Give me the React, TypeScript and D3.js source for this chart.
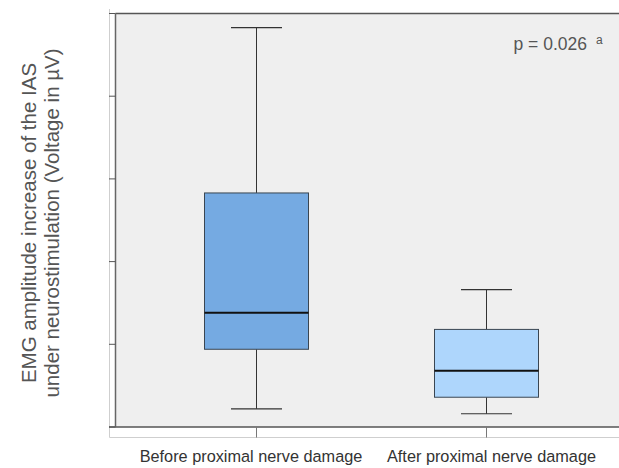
import React from 'react';
import * as d3 from 'd3';

// groups and five-number summaries (axis units unlabelled)
const groups = ['Before proximal nerve damage', 'After proximal nerve damage'];
const whiskerLow = [0.22, 0.16];
const q1 = [0.94, 0.36];
const median = [1.38, 0.68];
const q3 = [2.83, 1.18];
const whiskerHigh = [4.83, 1.66];
const fills = ['#75aae2', '#aed6fc'];
const yTicks = [0, 1, 2, 3, 4, 5];

const W = 619;
const H = 468;

const App = () => {
  const left = 115.5;
  const right = W;
  const top = 13.5;
  const bottom = 427;

  const x = d3.scaleBand().domain(groups).range([141, 601]);
  const y = d3.scaleLinear().domain([0, 5]).range([bottom, top]);
  const boxW = 104;
  const capW = 51;
  const labelShift = [-5.5, 5];
  const font = 'Liberation Sans, Arial, sans-serif';

  return (
    <svg width={W} height={H} style={{ position: 'absolute', left: 0, top: 0 }}>
      <rect x={0} y={0} width={W} height={H} fill="#ffffff" />
      {/* outer light frame */}
      <line x1={109.5} x2={109.5} y1={9} y2={437.5} stroke="#cfcfcf" />
      <line x1={109.5} x2={W} y1={437.5} y2={437.5} stroke="#cfcfcf" />
      <rect x={left} y={top} width={right - left} height={bottom - top} fill="#efefef" />
      <line x1={left} x2={right} y1={top} y2={top} stroke="#555" strokeWidth={1.3} />
      <line x1={109} x2={right} y1={bottom} y2={bottom} stroke="#555" strokeWidth={1.3} />
      <line x1={left} x2={left} y1={top} y2={bottom} stroke="#666" strokeWidth={1.5} />
      {yTicks.map((t) => (
        <line key={t} x1={109} x2={left} y1={y(t)} y2={y(t)} stroke="#555" />
      ))}
      {groups.map((g, i) => {
        const cx = Math.round((x(g) ?? 0) + x.bandwidth() / 2) + 0.5;
        return (
          <g key={g}>
            <line x1={cx} x2={cx} y1={bottom} y2={437.5} stroke="#777" />
            <line x1={cx} x2={cx} y1={y(whiskerHigh[i])} y2={y(q3[i])} stroke="#333" />
            <line x1={cx} x2={cx} y1={y(q1[i])} y2={y(whiskerLow[i])} stroke="#333" />
            <line x1={cx - capW / 2} x2={cx + capW / 2} y1={y(whiskerHigh[i])} y2={y(whiskerHigh[i])} stroke="#333" strokeWidth={1.2} />
            <line x1={cx - capW / 2} x2={cx + capW / 2} y1={y(whiskerLow[i])} y2={y(whiskerLow[i])} stroke="#333" strokeWidth={1.2} />
            <rect
              x={cx - boxW / 2}
              y={y(q3[i])}
              width={boxW}
              height={y(q1[i]) - y(q3[i])}
              fill={fills[i]}
              stroke="#3a4652"
              strokeWidth={1}
            />
            <line x1={cx - boxW / 2} x2={cx + boxW / 2} y1={y(median[i])} y2={y(median[i])} stroke="#111" strokeWidth={2} />
            <text x={cx + labelShift[i]} y={462} textAnchor="middle" fontFamily={font} fontSize={16.3} fill="#333">
              {g}
            </text>
          </g>
        );
      })}
      <text x={587} y={50} textAnchor="end" fontFamily={font} fontSize={17.5} fill="#555">
        p = 0.026
      </text>
      <text x={596} y={44} fontFamily={font} fontSize={12} fill="#555">
        a
      </text>
      <g transform="translate(0,223) rotate(-90)" fontFamily={font} fontSize={20.5} fill="#555" textAnchor="middle">
        <text x={0} y={36}>EMG amplitude increase of the IAS</text>
        <text x={0} y={59}>under neurostimulation (Voltage in µV)</text>
      </g>
    </svg>
  );
};

export default App;
